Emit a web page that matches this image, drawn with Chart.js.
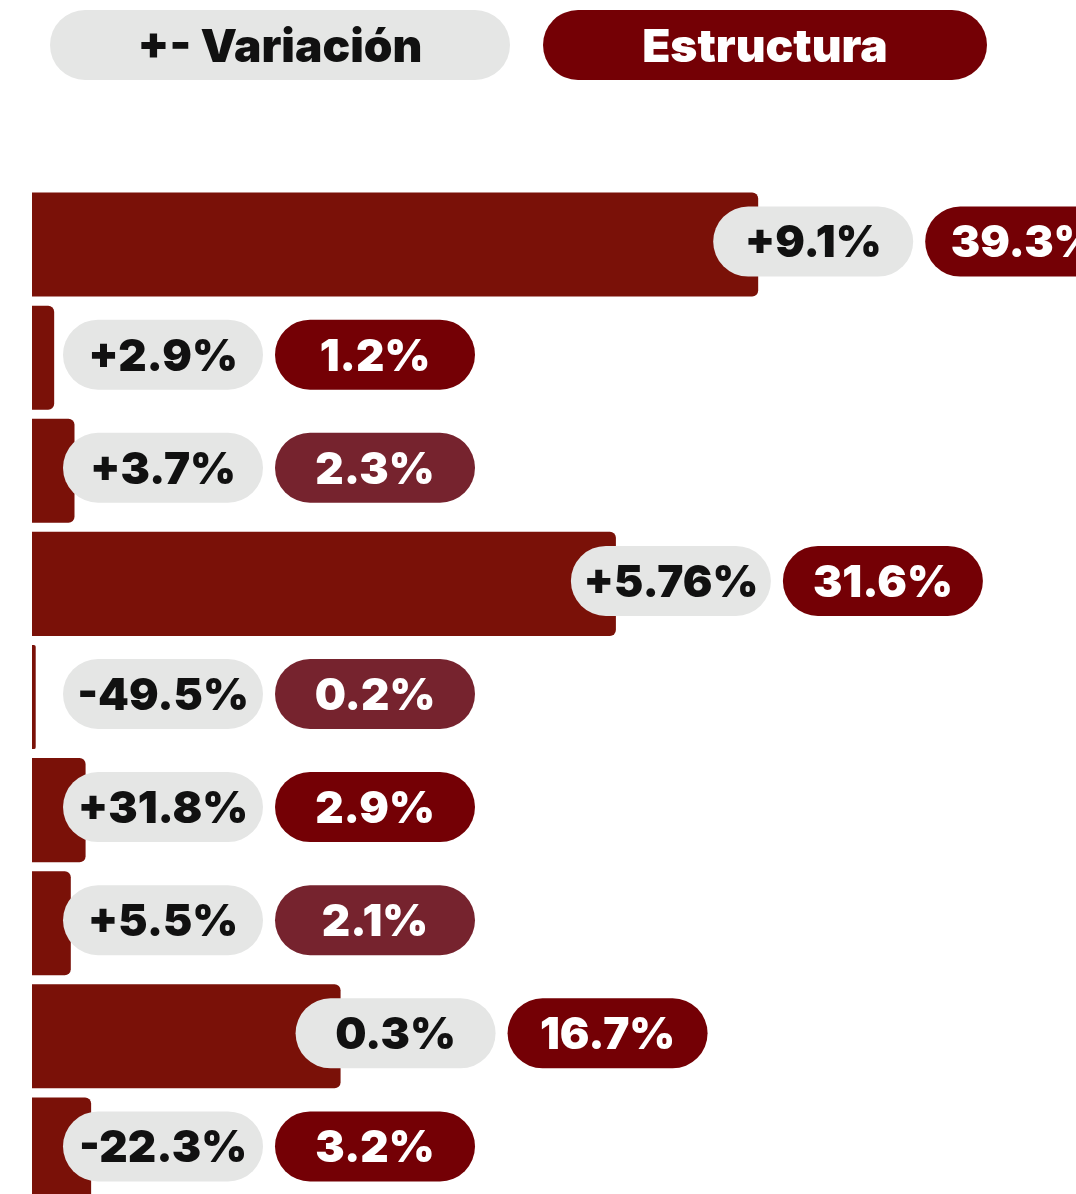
<!DOCTYPE html>
<html>
<head>
<meta charset="utf-8">
<script src="https://cdn.jsdelivr.net/npm/chart.js@4"></script>
<style>
  html, body { margin: 0; padding: 0; background: #ffffff; overflow: hidden; }
  #wrap { position: relative; width: 1076px; height: 1194px; overflow: hidden; }
  canvas { position: absolute; left: 0; top: 0; }
  .pill { position: absolute; top: 10px; height: 70px; border-radius: 35px;
          display: flex; align-items: center; justify-content: center;
          font-family: Inter, "Open Sans", "DejaVu Sans", sans-serif; font-weight: 900;
          font-size: 46px; letter-spacing: 0px; }
  #hVar { left: 50px; width: 460px; background: #e5e6e5; color: #111111; }
  #hEst { left: 543px; width: 444px; background: #740005; color: #ffffff; }
</style>
</head>
<body>
<div id="wrap">
  <canvas id="c" width="1076" height="1206"></canvas>
  <div class="pill" id="hVar">+- Variación</div>
  <div class="pill" id="hEst">Estructura</div>
</div>
<script>
// ---- data ----
const categories = ["1", "2", "3", "4", "5", "6", "7", "8", "9"];
const estructura = [39.3, 1.2, 2.3, 31.6, 0.2, 2.9, 2.1, 16.7, 3.2];
const variacionLabels = ["+9.1%", "+2.9%", "+3.7%", "+5.76%", "-49.5%", "+31.8%", "+5.5%", "0.3%", "-22.3%"];
const estructuraLabels = ["39.3%", "1.2%", "2.3%", "31.6%", "0.2%", "2.9%", "2.1%", "16.7%", "3.2%"];

// ---- styles ----
const barColor = "#7a1108";
const greyPill = "#e5e6e5";
const estPillColors = ["#740005", "#740005", "#76232e", "#740005", "#76232e", "#740005", "#76232e", "#740005", "#740005"];

const pillPlugin = {
  id: "pills",
  afterDatasetsDraw(chart) {
    const ctx = chart.ctx;
    const meta = chart.getDatasetMeta(0);
    const pillW = 200, pillH = 70, r = 35;
    const fontSize = 44;
    ctx.save();
    ctx.font = "900 " + fontSize + "px Inter, 'Open Sans', 'DejaVu Sans', sans-serif";
    ctx.textAlign = "center";
    ctx.textBaseline = "alphabetic";
    meta.data.forEach((bar, i) => {
      const cy = bar.y - 3;
      const gx = Math.max(bar.x - 45, 63);
      const rx = gx + 212;
      // grey pill
      ctx.fillStyle = greyPill;
      ctx.beginPath();
      ctx.roundRect(gx, cy - pillH / 2, pillW, pillH, r);
      ctx.fill();
      ctx.fillStyle = "#111111";
      ctx.fillText(variacionLabels[i], gx + pillW / 2, cy + fontSize * 0.36);
      // red pill
      ctx.fillStyle = estPillColors[i];
      ctx.beginPath();
      ctx.roundRect(rx, cy - pillH / 2, pillW, pillH, r);
      ctx.fill();
      ctx.fillStyle = "#ffffff";
      ctx.fillText(estructuraLabels[i], rx + pillW / 2, cy + fontSize * 0.36);
    });
    ctx.restore();
  }
};

new Chart(document.getElementById("c"), {
  type: "bar",
  data: {
    labels: categories,
    datasets: [{
      data: estructura,
      backgroundColor: barColor,
      borderWidth: 0,
      borderRadius: { topLeft: 0, bottomLeft: 0, topRight: 6, bottomRight: 6 },
      borderSkipped: false,
      barPercentage: 0.92,
      categoryPercentage: 1.0
    }]
  },
  options: {
    indexAxis: "y",
    responsive: false,
    animation: false,
    devicePixelRatio: 1,
    layout: { padding: { left: 32, top: 188, right: 0, bottom: 0 } },
    plugins: { legend: { display: false }, tooltip: { enabled: false } },
    scales: {
      x: { display: false, min: 0, max: 56.5 },
      y: { display: false }
    }
  },
  plugins: [pillPlugin]
});
</script>
</body>
</html>
